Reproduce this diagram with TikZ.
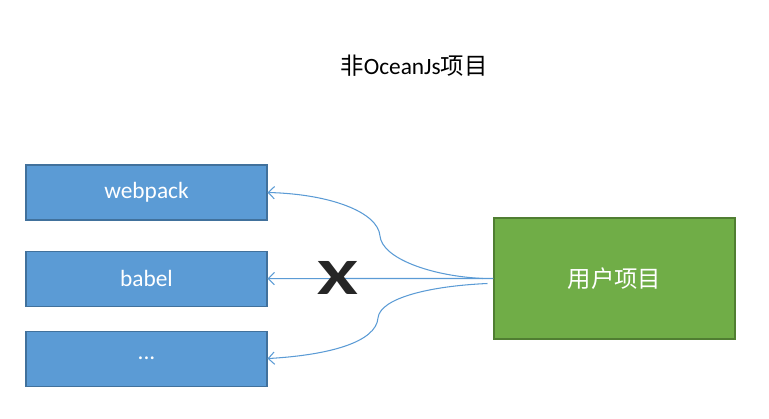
\documentclass[tikz,border=0pt]{standalone}
\usepackage{fontspec}
\setmainfont{Carlito}
\newfontfamily\cjk{Noto Sans CJK SC}
\usepackage{tikz}
\usetikzlibrary{arrows.meta,positioning}

\definecolor{boxblue}{HTML}{5B9BD5}
\definecolor{boxblueline}{HTML}{41719C}
\definecolor{boxgreen}{HTML}{70AD47}
\definecolor{boxgreenline}{HTML}{507E32}
\definecolor{crossgray}{HTML}{262626}

\begin{document}
\begin{tikzpicture}[x=0.02cm,y=-0.02cm,>={Straight Barb[length=3.5pt,width=7pt]},
                    tool/.style={draw=boxblueline,fill=boxblue,line width=0.6pt,minimum width=4.82cm,
                                 minimum height=1.1cm,inner sep=0pt,text=white,font=\fontsize{13.3}{16}\selectfont},
                    link/.style={->,draw=boxblue,line width=0.6pt}]

  \useasboundingbox (0,0) rectangle (769,419);

  \node (title) at (414,66) {\fontsize{13.3}{16}\selectfont{\cjk 非}OceanJs{\cjk 项目}};

  \node[tool] (webpack) at (146.5,192.5) {webpack};
  \node[tool] (babel) [below=0.6cm of webpack] {babel};
  \node[tool] (dots) [below=0.48cm of babel] {...};

  \node[draw=boxgreenline,fill=boxgreen,line width=0.6pt,minimum width=4.82cm,minimum height=2.42cm,
        inner sep=0pt,text=white,font=\fontsize{13.3}{16}\selectfont\cjk] (user) at (614.5,278.5) {用户项目};

  \coordinate (bendup) at (380,236);
  \coordinate (benddown) at (378,318);

  \draw[link] ([xshift=-6]user.west) .. controls (430,276) and (382,258) .. (bendup)
              .. controls (378,212) and (330,194) .. (webpack.east);
  \draw[link] (user.west) -- (babel.east);
  \draw[link] ([shift={(-6,5)}]user.west) .. controls (430,286) and (380,298) .. (benddown)
              .. controls (376,342) and (330,355) .. (dots.east);

  \node[text=crossgray,font=\fontsize{29}{29}\selectfont\bfseries] (cross) at (337.5,278) {\scalebox{1.45}[1]{X}};
\end{tikzpicture}
\end{document}
